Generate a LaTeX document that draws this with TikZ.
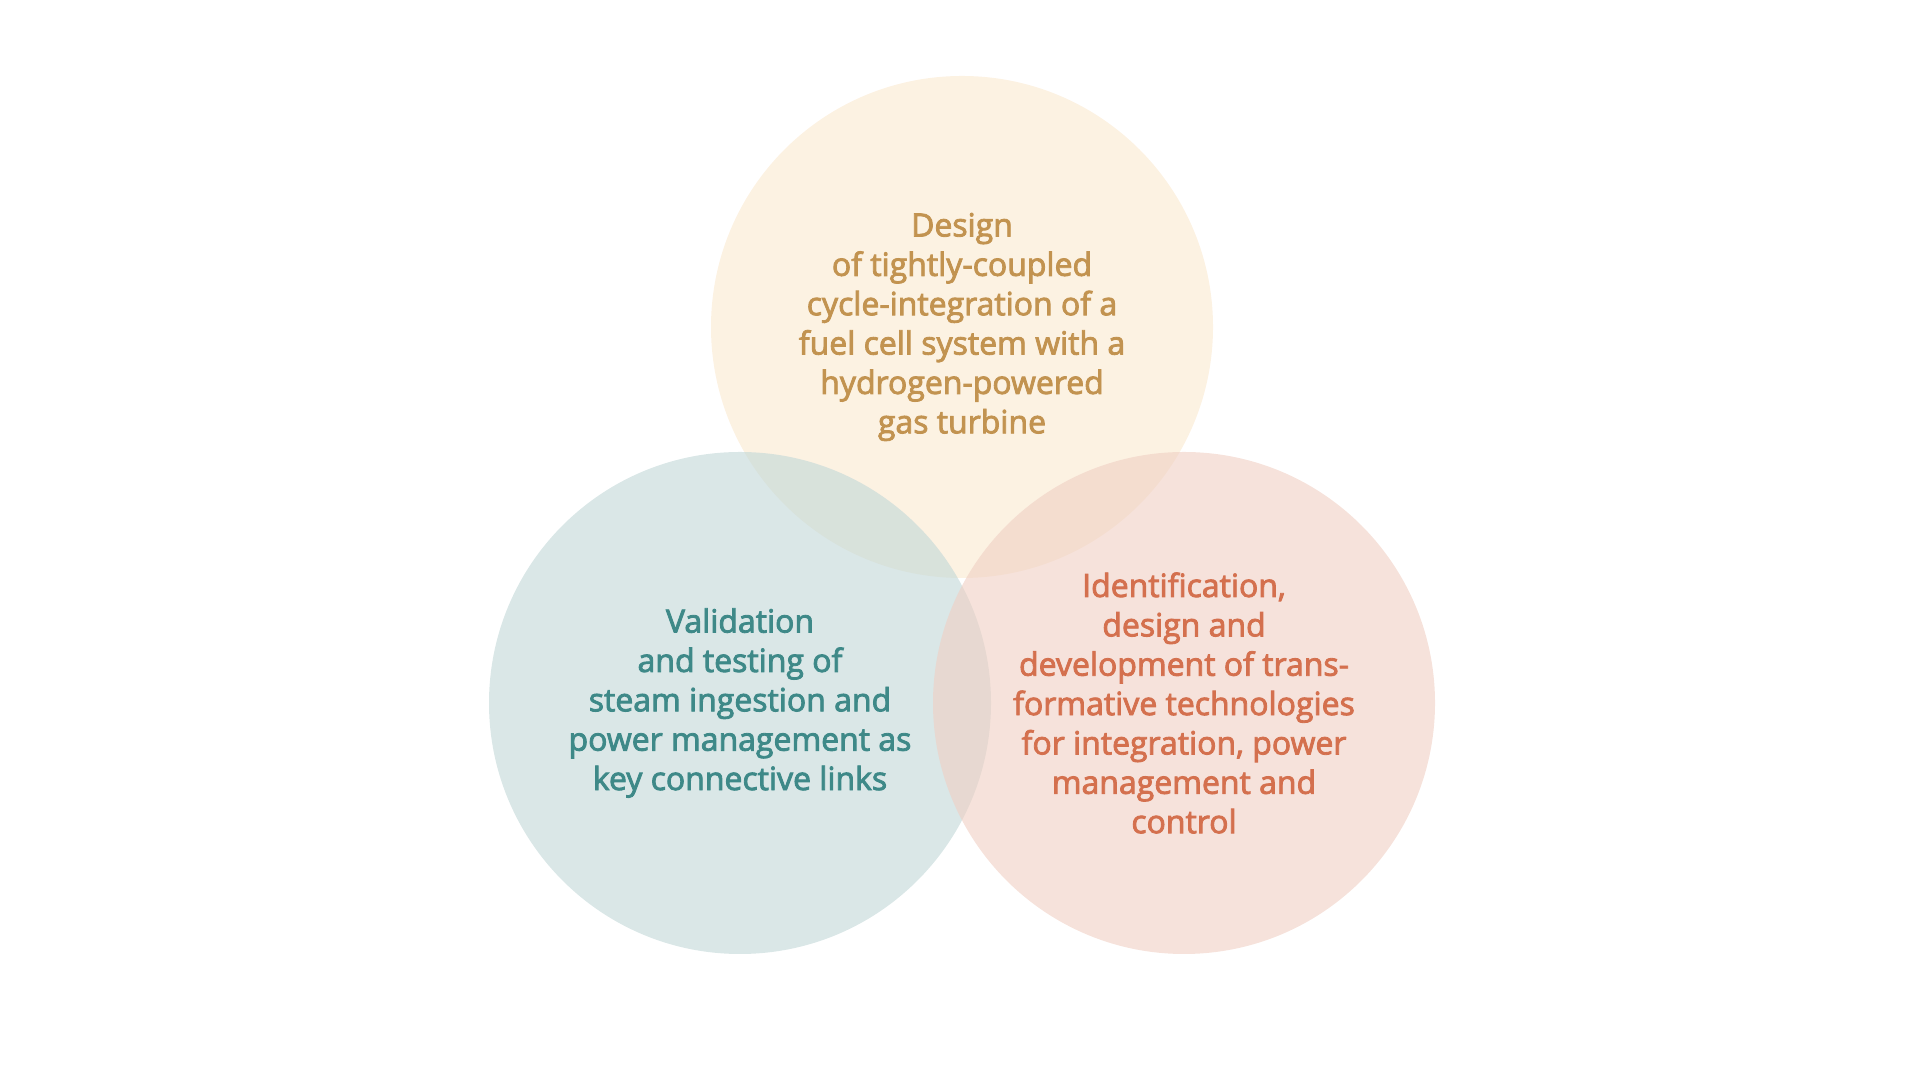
\documentclass[tikz,border=0pt]{standalone}
\usepackage{fontspec}
\setmainfont{Open Sans}
\newfontfamily\vennfont{Open Sans}[FakeBold=2.6]
\usepackage{tikz}
\definecolor{goldfill}{RGB}{250,233,207}
\definecolor{tealfill}{RGB}{193,215,215}
\definecolor{rustfill}{RGB}{240,207,195}
\definecolor{goldtext}{RGB}{194,147,80}
\definecolor{tealtext}{RGB}{62,137,136}
\definecolor{rusttext}{RGB}{212,112,78}
\def\vtxt{\vennfont\fontsize{9.1}{11.2}\selectfont}
\tikzset{bubble/.style={circle, minimum size=5.02cm, inner sep=0pt, fill opacity=0.6, text opacity=1, align=center, font=\vtxt}}

\begin{document}
\begin{tikzpicture}
\useasboundingbox (0,0) rectangle (19.2,10.8);

\node[bubble, fill=goldfill, text=goldtext] (design) at (9.62,7.53) {Design\\of tightly-coupled\\cycle-integration of a\\fuel cell system with a\\hydrogen-powered\\gas turbine};
\node[bubble, fill=tealfill, text=tealtext] (valid) at (7.40,3.77) {Validation\\and testing of\\steam ingestion and\\power management as\\key connective links};
\node[bubble, fill=rustfill, text=rusttext] (ident) at (11.84,3.77) {Identification,\\design and\\development of trans-\\formative technologies\\for integration, power\\management and\\control};
\end{tikzpicture}
\end{document}
